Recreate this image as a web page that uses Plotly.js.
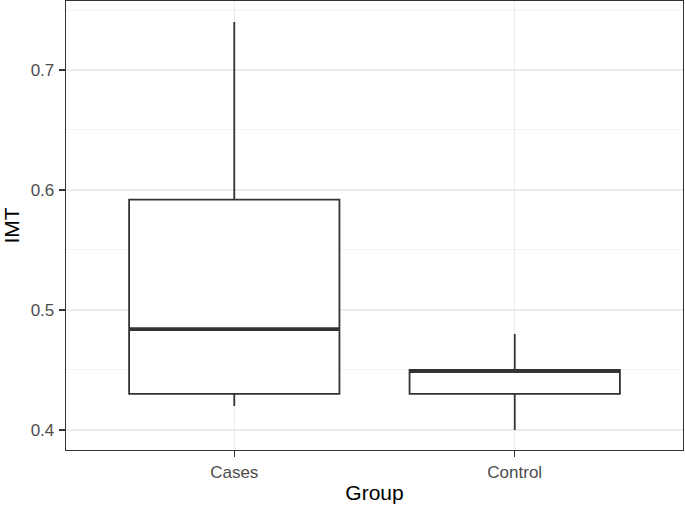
<!DOCTYPE html>
<html>
<head>
<meta charset="utf-8">
<script src="https://cdn.plot.ly/plotly-3.0.1.min.js"></script>
<style>html,body{margin:0;padding:0;background:#fff}#chart{width:685px;height:511px}</style>
</head>
<body>
<div id="chart"></div>
<script>
// Data
var groups = ["Cases", "Control"];
var lowerWhisker = [0.42, 0.40];
var q1Values = [0.43, 0.43];
var medianValues = [0.484, 0.449];
var q3Values = [0.592, 0.45];
var upperWhisker = [0.74, 0.48];
var yTicks = [0.4, 0.5, 0.6, 0.7];

var boxWidth = 0.75;
var lineColor = "#333333";
var positions = groups.map(function (g, i) { return i + 1; });

var traces = groups.map(function (g, i) {
  return {
    type: "box",
    name: g,
    x: [positions[i]],
    q1: [q1Values[i]],
    median: [medianValues[i]],
    q3: [q3Values[i]],
    lowerfence: [lowerWhisker[i]],
    upperfence: [upperWhisker[i]],
    width: boxWidth,
    whiskerwidth: 0,
    fillcolor: "#FFFFFF",
    line: { color: lineColor, width: 1.8 },
    boxpoints: false,
    hoverinfo: "skip",
    showlegend: false
  };
});

// thicker median lines as in ggplot
groups.forEach(function (g, i) {
  traces.push({
    type: "scatter",
    mode: "lines",
    x: [positions[i] - boxWidth / 2, positions[i] + boxWidth / 2],
    y: [medianValues[i], medianValues[i]],
    line: { color: lineColor, width: 3.6 },
    hoverinfo: "skip",
    showlegend: false
  });
});

var layout = {
  width: 685,
  height: 511,
  margin: { l: 66, r: 2, t: 1, b: 61 },
  paper_bgcolor: "#FFFFFF",
  plot_bgcolor: "#FFFFFF",
  font: { family: "Liberation Sans, Arial, sans-serif", color: "#4D4D4D", size: 17 },
  xaxis: {
    range: [0.4, 2.6],
    tickmode: "array",
    tickvals: positions,
    ticktext: groups,
    showgrid: true,
    gridcolor: "#EBEBEB",
    gridwidth: 1.3,
    zeroline: false,
    showline: true,
    mirror: true,
    linecolor: lineColor,
    linewidth: 1.3,
    ticks: "outside",
    ticklen: 6,
    tickwidth: 1.3,
    tickcolor: lineColor,
    ticklabelstandoff: 0,
    tickfont: { size: 17, color: "#4D4D4D" },
    title: { text: "Group", font: { size: 21, color: "#000000" }, standoff: 4 }
  },
  yaxis: {
    range: [0.3833, 0.7575],
    tickmode: "array",
    tickvals: yTicks,
    ticktext: yTicks.map(function (v) { return v.toFixed(1); }),
    showgrid: true,
    gridcolor: "#EBEBEB",
    gridwidth: 1.3,
    minor: { tickmode: "array", tickvals: [0.45, 0.55, 0.65, 0.75], showgrid: true, gridcolor: "#F3F3F3", gridwidth: 1, ticks: "" },
    zeroline: false,
    showline: true,
    mirror: true,
    linecolor: lineColor,
    linewidth: 1.3,
    ticks: "outside",
    ticklen: 6,
    tickwidth: 1.3,
    tickcolor: lineColor,
    ticklabelstandoff: 1,
    tickfont: { size: 17, color: "#4D4D4D" },
    title: { text: "IMT", font: { size: 21, color: "#000000" }, standoff: 6 }
  },
  showlegend: false
};

Plotly.newPlot("chart", traces, layout, { staticPlot: true, displayModeBar: false });
</script>
</body>
</html>
